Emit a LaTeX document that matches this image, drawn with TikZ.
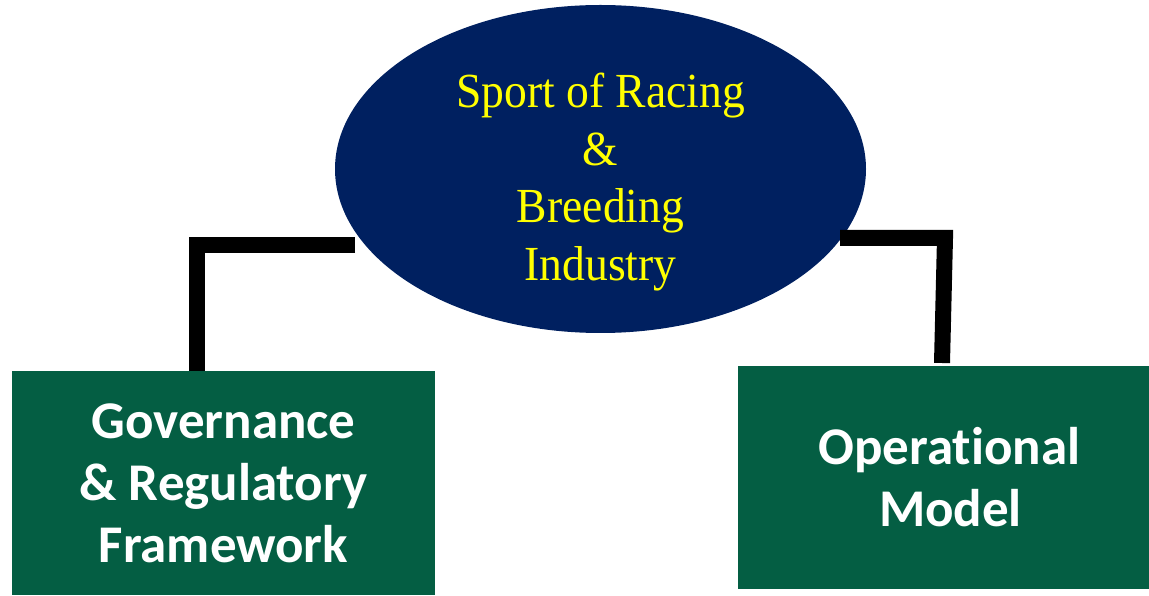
\documentclass[tikz,border=0pt]{standalone}
\usepackage{fontspec}
\setmainfont{Liberation Serif}
\newfontfamily\hubfont[FakeStretch=0.93]{Liberation Serif}
\newfontfamily\boxfont[RawFeature={-liga;-clig;-calt;-dlig}]{Carlito}
\usetikzlibrary{shapes.geometric}
\definecolor{HubNavy}{HTML}{002060}
\definecolor{BoxGreen}{HTML}{045E43}
\definecolor{HubYellow}{HTML}{FFFF00}

\begin{document}
\begin{tikzpicture}[x=1pt,y=1pt]
  \useasboundingbox (0,0) rectangle (1149,595);
  \tikzset{HubStyle/.style = {shape        = ellipse,
                              fill         = HubNavy,
                              inner sep    = 0pt,
                              outer sep    = 0pt,
                              minimum width  = 531pt,
                              minimum height = 328pt}}

  \tikzset{HubTextStyle/.style = {text   = HubYellow,
                                  align  = center,
                                  font   = \hubfont\fontsize{49}{57.7}\selectfont}}

  \tikzset{BranchStyle/.style = {shape        = rectangle,
                                 fill         = BoxGreen,
                                 text         = white,
                                 align        = center,
                                 inner sep    = 0pt,
                                 outer sep    = 0pt,
                                 font         = \boxfont\bfseries\fontsize{53}{62}\selectfont}}

  \tikzset{LinkStyle/.style = {line width = 16pt, line join = miter, black}}

     \node[HubStyle] (hub) at (600.5,426) {};
     \node[HubTextStyle] (hubtext) at (600.5,413) {Sport of Racing\\ \&\\ Breeding\\ Industry};

     \node[BranchStyle, minimum width=423pt, minimum height=224pt] (gov) at (223.5,112)
          {Governance\\ \& Regulatory\\ Framework};
     \node[BranchStyle, minimum width=411pt, minimum height=223pt] (oper) at (943.5,117.5)
          {\hspace*{12pt}Operat\kern0pt ional\\ \hspace*{14pt}Model};

     \coordinate (hubW) at (355,350);
     \coordinate (govtop) at ([xshift=-26.5pt]gov.north);
     \coordinate (hubE) at (840,357);
     \coordinate (operknee) at (945,357);
     \coordinate (opertop) at ([xshift=-1.5pt,yshift=3pt]oper.north);

     \draw[LinkStyle] (hubW) -| (govtop);
     \draw[LinkStyle] (hubE) -- (operknee) -- (opertop);
\end{tikzpicture}
\end{document}
